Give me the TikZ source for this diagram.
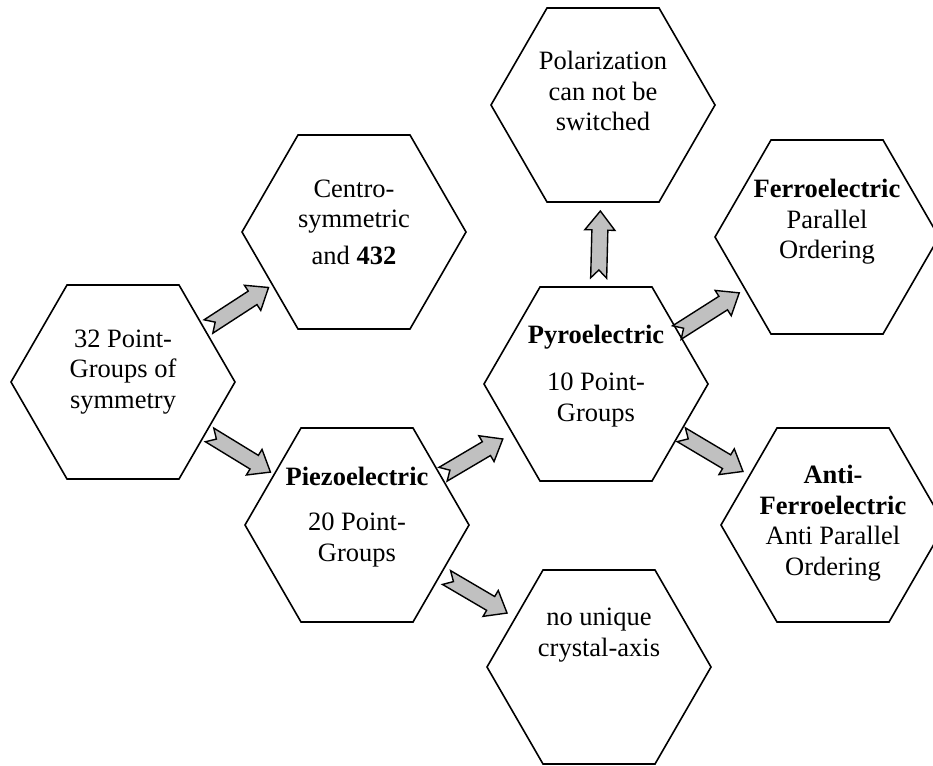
\documentclass[tikz,border=0pt]{standalone}
\usepackage{fontspec}
\setmainfont{Liberation Serif}
\usetikzlibrary{shapes.geometric, calc}
\definecolor{arrowgray}{RGB}{192,192,192}
\tikzset{
    hexa/.style={draw, line width=1.6pt, regular polygon, regular polygon sides=6,
      minimum size=224pt, inner sep=0pt},
    hextext/.style={align=center, inner sep=0pt, font=\fontsize{26.5}{30.5}\selectfont},
    blockarrow/.style={draw, fill=arrowgray, line width=1.4pt, line join=miter},
}
% notched block arrow between two hexagons, from fraction #3 to #4 of the centre line
\newcommand{\notched}[4]{%
  \coordinate (s) at ($(#1.center)!#3!(#2.center)$);
  \coordinate (e) at ($(#1.center)!#4!(#2.center)$);
  \coordinate (h) at ($(e)!19pt!(s)$);
  \draw[blockarrow] ($(s)!8pt!90:(e)$) -- ($(h)!8pt!-90:(s)$)
    -- ($(h)!15pt!-90:(s)$) -- (e) -- ($(h)!15pt!90:(s)$)
    -- ($(h)!8pt!90:(s)$) -- ($(s)!8pt!-90:(e)$) -- ($(s)!8pt!(e)$) -- cycle;
}
\begin{document}
\begin{tikzpicture}[x=1pt, y=-1pt]
  \useasboundingbox (0,0) rectangle (933,765);
  % hexagons
  \node[hexa] (sym) at (123,382) {};
  \node[hexa] (centro) at (354,232) {};
  \node[hexa] (piezo) at (357,525) {};
  \node[hexa] (pyro) at (596,384) {};
  \node[hexa] (polar) at (603,105) {};
  \node[hexa] (ferro) at (827,237) {};
  \node[hexa] (antiferro) at (833,525) {};
  \node[hexa] (nounique) at (599,667) {};
  % texts
  \node[hextext] (symt) at ([yshift=10pt]sym.center) {32 Point-\\Groups of\\symmetry};
  \node[hextext] (centrot) at ([yshift=10pt]centro.center) {Centro-\\symmetric\\[6pt]and \textbf{432}};
  \node[hextext] (piezot) at ([yshift=8pt]piezo.center) {\textbf{Piezoelectric}\\[15pt]20 Point-\\Groups};
  \node[hextext] (pyrot) at ([yshift=8pt]pyro.center) {\textbf{Pyroelectric}\\[17pt]10 Point-\\Groups};
  \node[hextext] (polart) at ([yshift=14pt]polar.center) {Polarization\\can not be\\switched};
  \node[hextext] (ferrot) at ([yshift=15pt]ferro.center) {\textbf{Ferroelectric}\\Parallel\\Ordering};
  \node[hextext] (antiferrot) at ([yshift=2pt]antiferro.center) {\textbf{Anti-}\\\textbf{Ferroelectric}\\Anti Parallel\\Ordering};
  \node[hextext] (nouniquet) at ([yshift=32pt]nounique.center) {no unique\\crystal-axis};
  % arrows
  \notched{sym}{centro}{0.37}{0.63}
  \notched{sym}{piezo}{0.37}{0.63}
  \notched{piezo}{pyro}{0.36}{0.61}
  \notched{piezo}{nounique}{0.37}{0.62}
  \notched{pyro}{polar}{0.38}{0.62}
  \notched{pyro}{ferro}{0.35}{0.62}
  \notched{pyro}{antiferro}{0.36}{0.62}
\end{tikzpicture}
\end{document}
